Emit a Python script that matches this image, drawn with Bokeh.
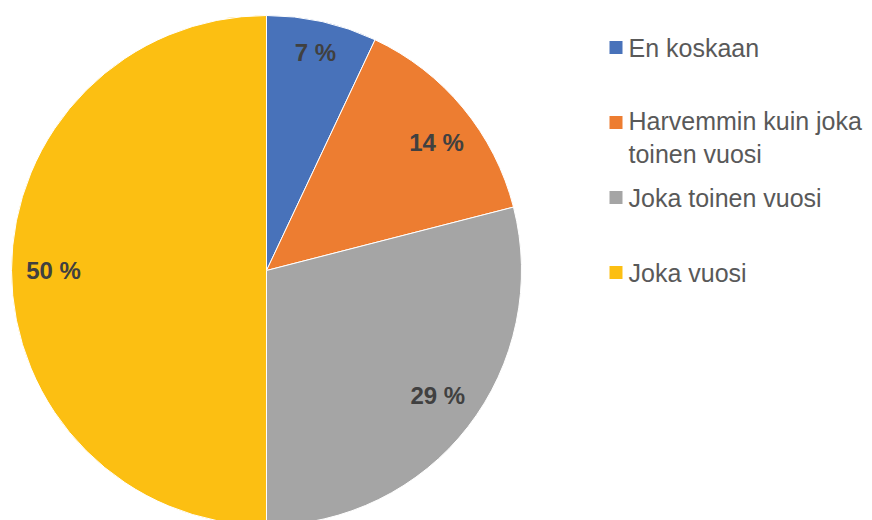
import math
from bokeh.plotting import figure
from bokeh.models import Range1d, ColumnDataSource
from bokeh.core.properties import value
from bokeh.embed import file_html
from bokeh.resources import INLINE

# ---- data ----
categories = ["En koskaan", "Harvemmin kuin joka toinen vuosi", "Joka toinen vuosi", "Joka vuosi"]
legend_labels = ["En koskaan", "Harvemmin kuin joka\ntoinen vuosi", "Joka toinen vuosi", "Joka vuosi"]
values = [7, 14, 29, 50]
label_texts = ["7 %", "14 %", "29 %", "50 %"]
colors = ["#4872BA", "#ED7D31", "#A5A5A5", "#FCBF12"]

# ---- layout (pixel-like data units, origin at page top-left) ----
W, H = 872, 520
cx, cy, R = 266, H - 270, 255
label_r = [0.88, 0.84, 0.83, 0.835]
label_dx = [0, 5, 4, 0]
label_dy = [-1, -9, 5, 0]

total = sum(values)
starts, ends, lx, ly = [], [], [], []
cum = 0.0
for v, rf, dx, dy in zip(values, label_r, label_dx, label_dy):
    a0 = math.pi / 2 - 2 * math.pi * cum / total
    cum += v
    a1 = math.pi / 2 - 2 * math.pi * cum / total
    starts.append(a0)
    ends.append(a1)
    mid = (a0 + a1) / 2
    lx.append(cx + rf * R * math.cos(mid) + dx)
    ly.append(cy + rf * R * math.sin(mid) + dy)

p = figure(width=W, height=H, x_range=Range1d(0, W), y_range=Range1d(0, H),
           output_backend="svg", toolbar_location=None, min_border=0,
           x_axis_location=None, y_axis_location=None)
p.grid.visible = False
p.outline_line_color = None

src = ColumnDataSource(dict(start=starts, end=ends, color=colors, cat=categories))
p.wedge(x=cx, y=cy, radius=R, start_angle="start", end_angle="end", direction="clock",
        fill_color="color", line_color="white", line_width=1, source=src)

p.text(x=lx, y=ly, text=label_texts, text_font=value("Liberation Sans"),
       text_font_style="bold", text_font_size="24px", text_color="#404040",
       text_align="center", text_baseline="middle")

# legend
line_h = 30
sq_x = 615.5
tx = 628
sq_y, t_y = [], []
for i, lab in enumerate(legend_labels):
    y = H - (47 + 75 * i)
    sq_y.append(y)
    n = lab.count("\n") + 1
    t_y.append(y - (n - 1) * line_h / 2)
p.rect(x=[sq_x] * len(colors), y=sq_y, width=13, height=13, fill_color=colors, line_color=None)
p.text(x=[tx] * len(legend_labels), y=t_y, text=legend_labels, text_font=value("Liberation Sans"),
       text_font_size="25px", text_color="#595959", text_align="left", text_baseline="middle",
       text_line_height=1.18)

open("out.html", "w").write(file_html(p, INLINE))
